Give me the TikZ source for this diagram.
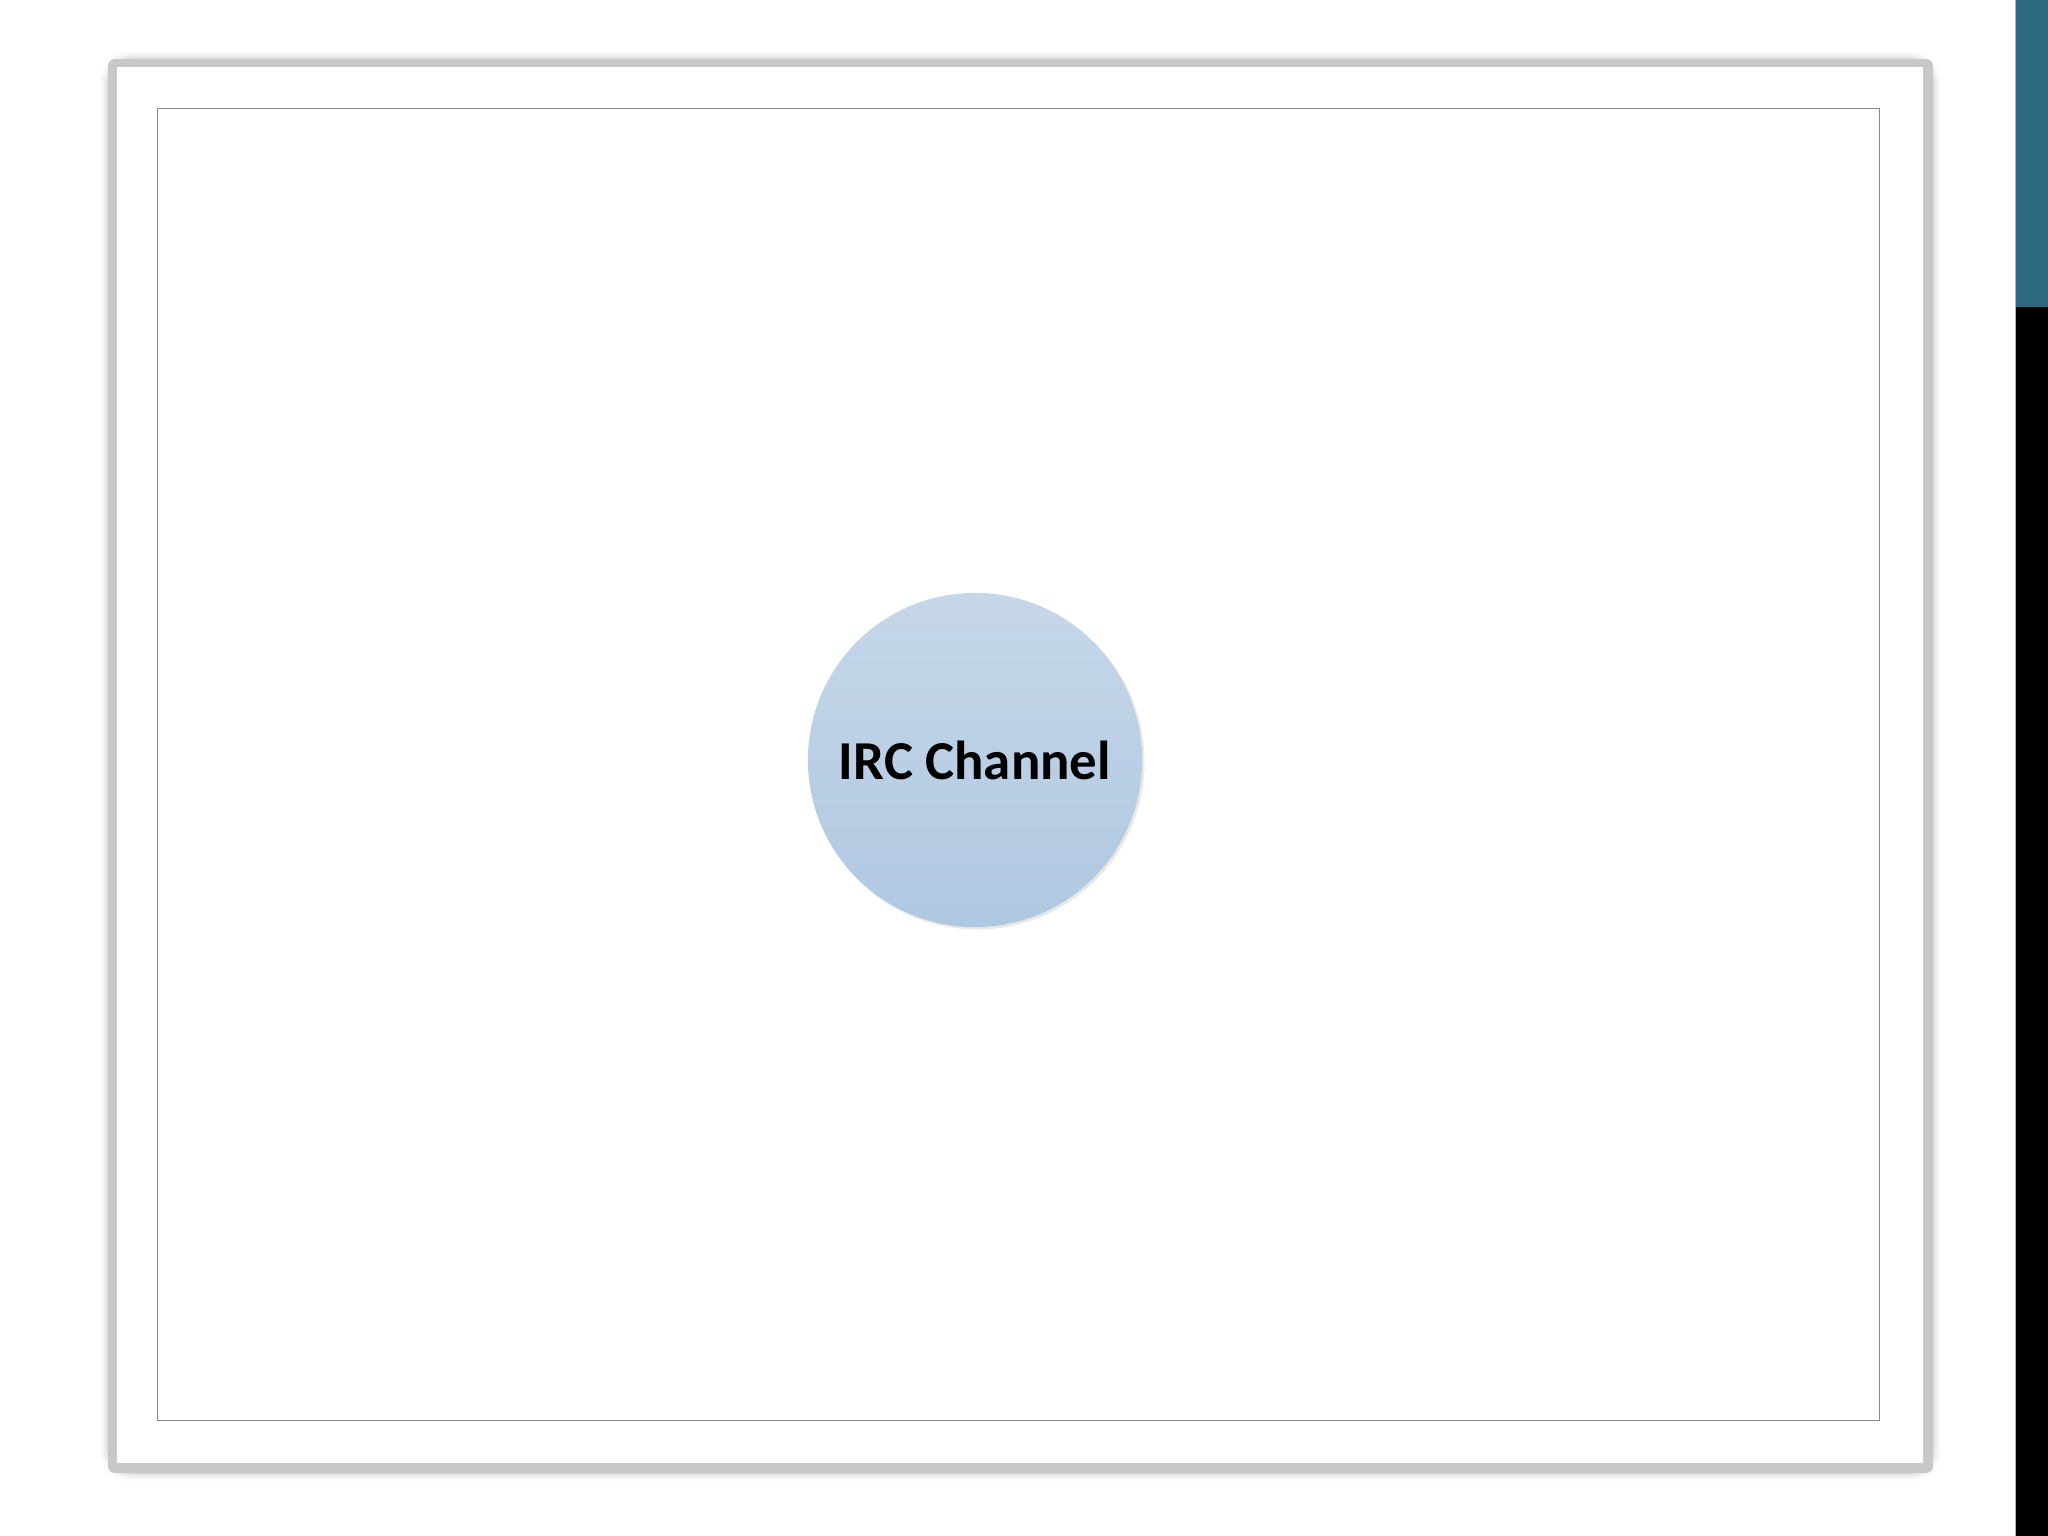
\documentclass[tikz,border=0pt]{standalone}
\usepackage{fontspec}
\setmainfont{Carlito}
\definecolor{barblue}{HTML}{2C6880}
\definecolor{frameg}{HTML}{C8C8C8}
\definecolor{circtop}{HTML}{C6D7E9}
\definecolor{circbot}{HTML}{AFC8E1}
\definecolor{innerline}{HTML}{8A8A8A}
\tikzset{
  channel/.style={circle, minimum size=33.4mm, inner sep=0pt, top color=circtop, bottom color=circbot, draw=none, font=\bfseries\fontsize{15.6pt}{17pt}\selectfont},
  innerbox/.style={draw=innerline, line width=0.35pt, inner sep=0pt},
}
\begin{document}
\begin{tikzpicture}[x=0.01cm,y=-0.01cm]
\useasboundingbox (0,0) rectangle (2048,1536);
\fill[white] (0,0) rectangle (2048,1536);
% right bar
\fill[barblue] (2016,0) rectangle (2048,307);
\fill[black] (2016,307) rectangle (2048,1536);
\draw[gray!60, line width=0.4pt] (2015.5,0) -- (2015.5,1536);
% outer frame with soft shadow
\foreach \d/\o in {8/0.05,6/0.1,4/0.18,2/0.35}{
  \fill[frameg, opacity=\o, rounded corners=8] (108-\d,59-\d) rectangle (1933+\d,1473+\d);
}
\fill[frameg, rounded corners=2] (108,59) rectangle (1933,1473);
\fill[white] (117,67) rectangle (1923,1463);
% inner rectangle
\node[innerbox, minimum width=172.1mm, minimum height=131.1mm] (inner) at (1018.5,764.5) {};
% circle shadow
\fill[gray!18] (977,762) circle (167.5);
\node[channel] (irc) at (975,760) {IRC Channel};
\end{tikzpicture}
\end{document}
